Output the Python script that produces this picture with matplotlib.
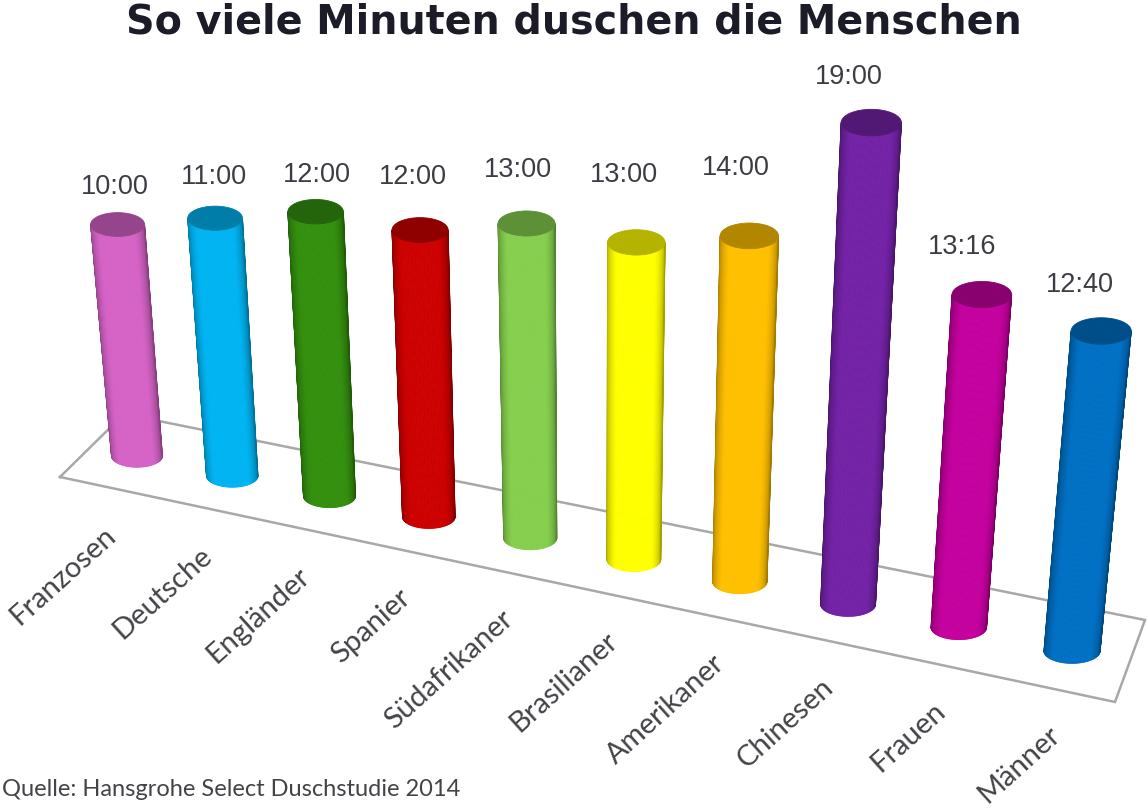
import matplotlib
matplotlib.use("Agg")
import matplotlib.pyplot as plt
from matplotlib.collections import PolyCollection
from matplotlib.patches import Ellipse
import numpy as np

categories = ["Franzosen", "Deutsche", "Engländer", "Spanier", "Südafrikaner",
              "Brasilianer", "Amerikaner", "Chinesen", "Frauen", "Männer"]
minutes = [10, 11, 12, 12, 13, 13, 14, 19, 13.27, 12.67]
time_labels = ["10:00", "11:00", "12:00", "12:00", "13:00",
               "13:00", "14:00", "19:00", "13:16", "12:40"]
colors = ["#d563c6", "#00b4f2", "#338f0e", "#cc0000", "#86cf4e",
          "#ffff00", "#ffc000", "#7322a6", "#c4009e", "#0070c4"]

# where the time labels sit relative to the cylinder tops
label_gap = [37, 41, 37, 53, 53, 67, 68, 46, 48, 46]
label_shift = [-3, -1, 1, -7, -9, -12, -14, -22, -20, -21]

# perspective: spacing grows a bit towards the right, verticals meet far below
K = 0.0103
VP = (593, 5903)

def persp(i):
    return 1 / (1 - K * i)

def base(i):
    f = i * persp(i) / (9 * persp(9))
    return 137 + 935 * f, 456 + 195 * f

def top(i, v):
    bx, by = base(i)
    h = 23.15 * persp(i) ** 0.8 * v * (1 + 0.0035 * (v - 10))
    return bx + (bx - VP[0]) * h / (VP[1] - by), by - h

def shade(col, k):
    rgb = np.array(matplotlib.colors.to_rgb(col))
    return tuple(rgb * k)

fig = plt.figure(figsize=(11.48, 8.08), dpi=100)
ax = fig.add_axes([0, 0, 1, 1])
ax.set_xlim(0, 1148)
ax.set_ylim(808, 0)
ax.axis("off")

# floor
ax.plot([60, 124, 1145, 1115, 60], [477, 414, 620, 702, 477],
        color="#a8a8a8", lw=1.8, zorder=1, solid_joinstyle="miter")

theta = np.linspace(np.pi, 0, 61)
for i, (v, col) in enumerate(zip(minutes, colors)):
    bx, by = base(i)
    tx, ty = top(i, v)
    rb = 25.5 * persp(i)
    rt = 27 * persp(i) * (1 + 0.004 * (v - 10))
    eb = 0.44 * rb
    et = 0.44 * rt
    polys = []
    cols = []
    for a, b in zip(theta[:-1], theta[1:]):
        polys.append([(tx + rt * np.cos(a), ty + et * np.sin(a)),
                      (tx + rt * np.cos(b), ty + et * np.sin(b)),
                      (bx + rb * np.cos(b), by + eb * np.sin(b)),
                      (bx + rb * np.cos(a), by + eb * np.sin(a))])
        m = (a + b) / 2
        cols.append(shade(col, 0.62 + 0.38 * min(1, 1.35 * np.sin(m))))
    ax.add_collection(PolyCollection(polys, facecolors=cols, edgecolors=cols,
                                     linewidths=0.6, zorder=2 + i))
    ax.add_patch(Ellipse((tx, ty), 2 * rt, 2 * et, facecolor=shade(col, 0.7),
                         edgecolor=shade(col, 0.7), lw=0.6, zorder=2 + i))
    ax.text(tx + label_shift[i], ty - label_gap[i], time_labels[i], ha="center", va="center",
            fontsize=19.5, family="Liberation Sans", color="#3c3c44", zorder=20)
    ax.text(bx - 25 + i, by + 76 + 0.4 * i, categories[i], ha="right", va="center", rotation=42,
            rotation_mode="anchor", fontsize=21, family="Lato", color="#444448", zorder=20)

ax.text(574, 23, "So viele Minuten duschen die Menschen", ha="center", va="center",
        fontsize=28.5, family="DejaVu Sans", weight="bold", color="#1c1c28")
ax.text(2, 790, "Quelle: Hansgrohe Select Duschstudie 2014", ha="left", va="center",
        fontsize=17, family="Lato", color="#444448")

fig.savefig("out.png", dpi=100)
